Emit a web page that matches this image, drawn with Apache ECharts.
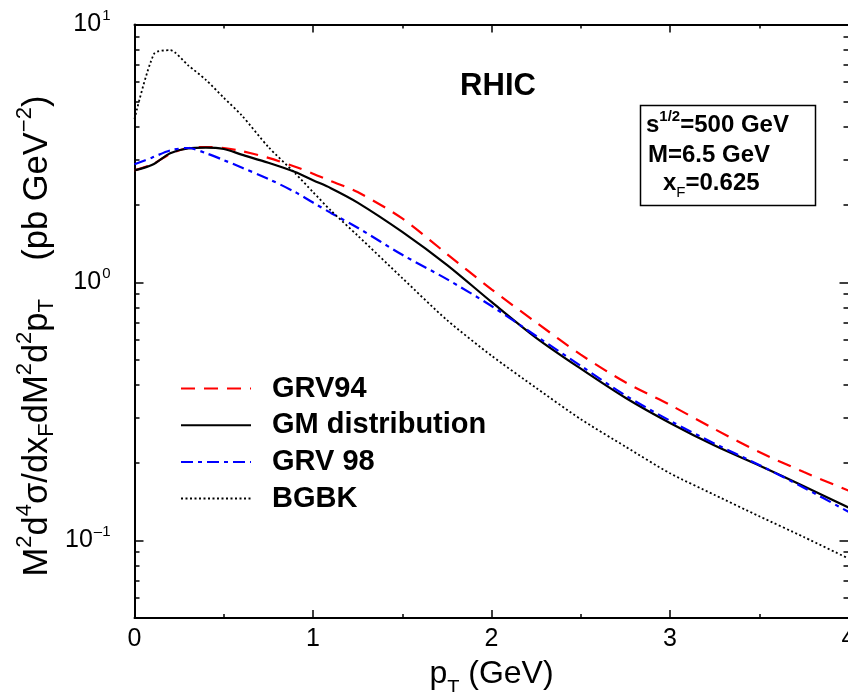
<!DOCTYPE html>
<html>
<head>
<meta charset="utf-8">
<script src="https://cdn.jsdelivr.net/npm/echarts@6/dist/echarts.min.js"></script>
<style>
  html, body { margin: 0; padding: 0; background: #fff; }
  #chart { width: 848px; height: 692px; }
</style>
</head>
<body>
<div id="chart"></div>
<script>
// Transverse-momentum grid (GeV) shared by the three PDF curves
const pT = [0, 0.1, 0.2, 0.3, 0.4, 0.5, 0.6, 0.75, 0.9, 1.0, 1.1, 1.25, 1.5, 1.75, 2.0, 2.25, 2.5, 2.75, 3.0, 3.25, 3.5, 3.75, 4.0];

// Cross sections M^2 d^4σ/dx_F dM^2 d^2p_T  (pb GeV^-2)
const grv94  = [2.72, 2.87, 3.15, 3.32, 3.35, 3.32, 3.23, 3.04, 2.81, 2.64, 2.47, 2.24, 1.77, 1.29, 0.94, 0.70, 0.525, 0.41, 0.335, 0.27, 0.22, 0.184, 0.156];
const gmDist = [2.72, 2.86, 3.17, 3.31, 3.33, 3.29, 3.13, 2.91, 2.68, 2.49, 2.32, 2.04, 1.57, 1.17, 0.84, 0.61, 0.463, 0.357, 0.285, 0.233, 0.195, 0.162, 0.134];
const grv98  = [2.87, 3.05, 3.25, 3.32, 3.17, 2.98, 2.79, 2.52, 2.24, 2.04, 1.86, 1.63, 1.28, 1.03, 0.81, 0.62, 0.475, 0.365, 0.291, 0.237, 0.196, 0.16, 0.129];

// BGBK has its own sampling (sharp rise near p_T = 0)
const bgbkX = [0, 0.11, 0.2, 0.3, 0.4, 0.5, 0.6, 0.75, 0.9, 1.0, 1.1, 1.25, 1.5, 1.75, 2.0, 2.25, 2.5, 2.75, 3.0, 3.25, 3.5, 3.75, 4.0];
const bgbk  = [4.3, 7.7, 7.95, 6.95, 6.1, 5.2, 4.45, 3.35, 2.65, 2.24, 1.9, 1.52, 1.04, 0.715, 0.52, 0.39, 0.295, 0.231, 0.182, 0.150, 0.124, 0.103, 0.085];

const seriesNames = ['GRV94', 'GM distribution', 'GRV 98', 'BGBK'];

// Axis tick positions
const xMajorStep = 1;
const xMinorStep = 0.5;
const yMajorTicks = [0.1, 1, 10];
const yMinorTicks = [0.06, 0.07, 0.08, 0.09, 0.2, 0.3, 0.4, 0.5, 0.6, 0.7, 0.8, 0.9, 2, 3, 4, 5, 6, 7, 8, 9];

const FONT = '"Liberation Sans", Arial, Helvetica, sans-serif';

function pairs(xs, ys) { return xs.map((x, i) => [x, ys[i]]); }

function xAxisDef(position, step, tickLen, showLabels, showLine) {
  return {
    type: 'value', position: position, min: 0, max: 4, interval: step,
    axisLine: { show: showLine, onZero: false, lineStyle: { color: '#000', width: 2 } },
    axisTick: { show: true, inside: true, length: tickLen, lineStyle: { color: '#000', width: 1.5 } },
    axisLabel: showLabels ? {
      show: true, margin: 9, color: '#000', fontSize: 25, fontFamily: FONT
    } : { show: false },
    splitLine: { show: false }
  };
}

function yAxisDef(position, ticks, tickLen, showLabels, showLine) {
  const ax = {
    type: 'log', logBase: 10, min: 0.05, max: 10, position: position,
    axisLine: { show: showLine, onZero: false, lineStyle: { color: '#000', width: 2 } },
    axisTick: { show: true, inside: true, length: tickLen, customValues: ticks, lineStyle: { color: '#000', width: 1.5 } },
    axisLabel: { show: false },
    splitLine: { show: false }
  };
  if (showLabels) {
    ax.axisLabel = {
      show: true, customValues: yMajorTicks, margin: 24, color: '#000', fontFamily: FONT,
      formatter: function (v) {
        const e = Math.round(Math.log10(v));
        const ex = e < 0 ? '\u2013' + (-e) : String(e);
        return '{b|10}{s|' + ex + '}';
      },
      rich: {
        b: { fontSize: 25, fontFamily: FONT, color: '#000', verticalAlign: 'middle' },
        s: { fontSize: 15, fontFamily: FONT, color: '#000', verticalAlign: 'middle', padding: [0, 0, 17, 1] }
      }
    };
  }
  return ax;
}

const chart = echarts.init(document.getElementById('chart'), null, { renderer: 'canvas' });

const option = {
  animation: false,
  backgroundColor: '#fff',
  grid: { left: 134.5, top: 24.5, width: 714, height: 593.5, containLabel: false, outerBoundsMode: 'none' },
  xAxis: [
    Object.assign(xAxisDef('bottom', xMajorStep, 8, true, true), {
      name: '{a|p}{t|T}{a| (GeV)}',
      nameLocation: 'middle', nameGap: 32, nameMoveOverlap: false,
      nameTextStyle: {
        rich: {
          a: { fontSize: 32, fontFamily: FONT, color: '#000', verticalAlign: 'middle' },
          t: { fontSize: 20, fontFamily: FONT, color: '#000', verticalAlign: 'middle', padding: [28, 0, 0, 0] }
        }
      }
    }),
    xAxisDef('bottom', xMinorStep, 4, false, false),
    xAxisDef('top', xMajorStep, 8, false, true),
    xAxisDef('top', xMinorStep, 4, false, false)
  ],
  yAxis: [
    yAxisDef('left', yMajorTicks, 9, true, true),
    yAxisDef('left', yMinorTicks, 5, false, false),
    yAxisDef('right', yMajorTicks, 9, false, true),
    yAxisDef('right', yMinorTicks, 5, false, false)
  ],
  legend: {
    orient: 'vertical', left: 175, top: 369,
    itemWidth: 70, itemHeight: 14, itemGap: 7.7,
    selectedMode: false,
    data: seriesNames,
    itemStyle: { opacity: 0, borderWidth: 0 },
    textStyle: { fontFamily: FONT, fontSize: 29, fontWeight: 'bold', color: '#000', padding: [0, 0, 0, 16] }
  },
  series: [
    {
      name: seriesNames[0], type: 'line', data: pairs(pT, grv94), symbol: 'none', smooth: 0.3,
      lineStyle: { color: '#ff0000', width: 2.2, type: [14, 9] }, itemStyle: { color: '#ff0000' }
    },
    {
      name: seriesNames[1], type: 'line', data: pairs(pT, gmDist), symbol: 'none', smooth: 0.3,
      lineStyle: { color: '#000', width: 2.2, type: 'solid' }, itemStyle: { color: '#000' }
    },
    {
      name: seriesNames[2], type: 'line', data: pairs(pT, grv98), symbol: 'none', smooth: 0.3,
      lineStyle: { color: '#0000ff', width: 2.2, type: [12, 5, 4, 5] }, itemStyle: { color: '#0000ff' }
    },
    {
      name: seriesNames[3], type: 'line', data: pairs(bgbkX, bgbk), symbol: 'none', smooth: 0.25,
      lineStyle: { color: '#000', width: 1.8, type: [2, 2.5] }, itemStyle: { color: '#000' }
    }
  ],
  graphic: [
    {
      type: 'text', x: 37, y: 336, rotation: Math.PI / 2,
      style: {
        text: '{m|M}{u|2}{m|d}{u|4}{m|\u03c3/dx}{d|F}{m|dM}{u|2}{m|d}{u|2}{m|p}{d|T}{m|    (pb GeV}{u|\u22122}{m|)}',
        align: 'center', verticalAlign: 'middle',
        rich: {
          m: { fontSize: 34.5, fontFamily: FONT, fill: '#000', verticalAlign: 'middle' },
          u: { fontSize: 22, fontFamily: FONT, fill: '#000', verticalAlign: 'middle', padding: [0, 0, 24, 0] },
          d: { fontSize: 22, fontFamily: FONT, fill: '#000', verticalAlign: 'middle', padding: [20, 0, 0, 0] }
        }
      }
    },
    {
      type: 'text', x: 498, y: 86,
      style: { text: 'RHIC', font: 'bold 31px ' + FONT, fill: '#000', align: 'center', verticalAlign: 'middle' }
    },
    {
      type: 'rect', shape: { x: 640.5, y: 105.5, width: 175, height: 100 },
      style: { fill: '#fff', stroke: '#000', lineWidth: 1.5 }
    },
    {
      type: 'text', x: 646, y: 125,
      style: {
        text: '{b|s}{p|1/2}{b|=500 GeV}', align: 'left', verticalAlign: 'middle',
        rich: {
          b: { fontSize: 24, fontWeight: 'bold', fontFamily: FONT, fill: '#000', verticalAlign: 'middle' },
          p: { fontSize: 15, fontWeight: 'bold', fontFamily: FONT, fill: '#000', verticalAlign: 'middle', padding: [0, 0, 16, 0] }
        }
      }
    },
    {
      type: 'text', x: 648, y: 155,
      style: { text: 'M=6.5 GeV', font: 'bold 24px ' + FONT, fill: '#000', align: 'left', verticalAlign: 'middle' }
    },
    {
      type: 'text', x: 663, y: 183,
      style: {
        text: '{b|x}{p|F}{b|=0.625}', align: 'left', verticalAlign: 'middle',
        rich: {
          b: { fontSize: 24, fontWeight: 'bold', fontFamily: FONT, fill: '#000', verticalAlign: 'middle' },
          p: { fontSize: 15, fontFamily: FONT, fill: '#000', verticalAlign: 'middle', padding: [20, 0, 0, 0] }
        }
      }
    }
  ]
};

chart.setOption(option);
</script>
</body>
</html>
